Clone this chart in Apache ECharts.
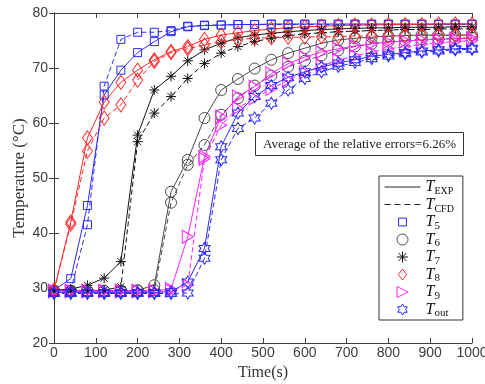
<!DOCTYPE html>
<html>
<head>
<meta charset="utf-8">
<script src="https://cdn.jsdelivr.net/npm/echarts@6/dist/echarts.min.js"></script>
<style>
  html, body { margin: 0; padding: 0; background: #fff; }
  #chart { width: 485px; height: 384px; }
</style>
</head>
<body>
<div id="chart"></div>
<script>
// Sampling instants (s)
const timeS = [0, 40, 80, 120, 160, 200, 240, 280, 320, 360, 400, 440, 480,
               520, 560, 600, 640, 680, 720, 760, 800, 840, 880, 920, 960, 1000];

// Measured (EXP) and simulated (CFD) temperatures, °C
const t5Exp  = [29.6, 31.7, 45.0, 65.1, 69.6, 72.8, 74.8, 76.6, 77.5, 77.7, 77.8, 77.9, 77.9, 78.0, 78.0, 78.0, 78.0, 78.0, 78.0, 78.0, 78.0, 78.0, 78.0, 78.0, 78.0, 78.0];
const t5Cfd  = [29.4, 29.5, 41.5, 66.7, 75.2, 76.5, 76.5, 76.8, 77.6, 77.8, 77.8, 77.9, 77.9, 77.9, 77.9, 77.9, 77.9, 77.9, 77.9, 77.9, 77.9, 77.9, 77.9, 77.9, 77.9, 77.9];
const t6Exp  = [29.5, 29.5, 29.5, 29.5, 29.5, 29.6, 30.5, 47.5, 53.3, 60.9, 66.0, 68.0, 69.9, 71.5, 72.7, 73.6, 74.5, 75.1, 75.4, 75.6, 75.8, 75.9, 76.0, 76.0, 76.0, 76.0];
const t6Cfd  = [29.5, 29.5, 29.5, 29.5, 29.5, 29.5, 29.6, 45.5, 52.4, 56.0, 61.5, 64.5, 66.8, 68.6, 70.2, 71.3, 72.3, 73.2, 73.9, 74.4, 74.8, 75.0, 75.2, 75.3, 75.4, 75.5];
const t7Exp  = [29.6, 29.8, 30.5, 31.8, 34.8, 57.8, 66.0, 68.5, 71.3, 73.3, 74.5, 75.5, 76.0, 76.3, 76.6, 76.8, 77.0, 77.1, 77.2, 77.3, 77.3, 77.4, 77.4, 77.4, 77.5, 77.5];
const t7Cfd  = [29.5, 29.5, 29.5, 29.6, 30.2, 56.6, 61.8, 64.8, 68.1, 70.8, 72.7, 73.9, 74.8, 75.4, 75.9, 76.2, 76.4, 76.6, 76.7, 76.8, 76.9, 77.0, 77.0, 77.1, 77.1, 77.1];
const t8Exp  = [29.6, 42.0, 57.3, 63.8, 67.4, 69.6, 71.5, 73.0, 73.9, 75.2, 76.0, 76.4, 76.8, 77.1, 77.3, 77.5, 77.6, 77.7, 77.8, 77.8, 77.9, 77.9, 77.9, 78.0, 78.0, 78.0];
const t8Cfd  = [29.5, 41.6, 54.9, 60.9, 63.3, 67.8, 71.2, 72.8, 73.5, 74.2, 74.8, 75.2, 75.4, 75.5, 75.6, 75.6, 75.7, 75.7, 75.8, 75.8, 75.8, 75.9, 75.9, 75.9, 75.9, 76.0];
const t9Exp  = [29.5, 29.5, 29.5, 29.5, 29.5, 29.5, 29.5, 29.8, 39.3, 53.9, 61.2, 64.8, 66.6, 69.0, 70.8, 72.0, 72.9, 73.5, 74.0, 74.4, 74.7, 74.9, 75.1, 75.2, 75.3, 75.4];
const t9Cfd  = [29.4, 29.4, 29.4, 29.4, 29.4, 29.4, 29.4, 29.5, 30.5, 53.5, 59.6, 62.7, 64.5, 66.2, 67.8, 69.2, 70.4, 71.4, 72.2, 72.9, 73.5, 73.9, 74.3, 74.6, 74.8, 75.0];
const tOutExp = [29.2, 29.2, 29.2, 29.2, 29.2, 29.2, 29.2, 29.3, 31.1, 37.2, 55.7, 61.8, 64.8, 66.8, 68.3, 69.3, 70.2, 70.9, 71.5, 72.1, 72.5, 72.8, 73.1, 73.3, 73.5, 73.6];
const tOutCfd = [29.0, 29.0, 29.0, 29.0, 29.0, 29.0, 29.0, 29.0, 29.1, 35.4, 53.3, 59.0, 60.9, 63.6, 66.0, 68.1, 69.3, 70.3, 71.0, 71.7, 72.2, 72.6, 72.9, 73.1, 73.3, 73.4];

const errorNote = 'Average of the relative errors=6.26%';

// Marker shapes
const SYM_ASTERISK = 'path://M0,-100L0,100M-100,0L100,0M-70.7,-70.7L70.7,70.7M-70.7,70.7L70.7,-70.7';
const SYM_TRI_RIGHT = 'path://M0,0L100,50L0,100Z';
const SYM_HEXAGRAM = 'path://M0,-100L28.9,-50L86.6,-50L57.7,0L86.6,50L28.9,50L0,100L-28.9,50L-86.6,50L-57.7,0L-86.6,-50L-28.9,-50Z';
const SYM_DIAMOND = 'path://M0,-100L75,0L0,100L-75,0Z';
const LEG_SQUARE = 'path://M-140,-140M140,140M-100,-100L100,-100L100,100L-100,100Z';
const LEG_LINE = 'path://M0,-10M0,10M0,0L360,0';

const BLUE = '#2a2aff', GREY = '#4a4a4a', BLACK = '#111111', RED = '#ff2a2a', MAGENTA = '#ff22ff';

const sensors = [
  { key: 'T5',   exp: t5Exp,   cfd: t5Cfd,   color: BLUE,    symbol: 'rect',        size: 8,        legIcon: LEG_SQUARE },
  { key: 'T6',   exp: t6Exp,   cfd: t6Cfd,   color: GREY,    symbol: 'circle',      size: 11,       legIcon: 'circle' },
  { key: 'T7',   exp: t7Exp,   cfd: t7Cfd,   color: BLACK,   symbol: SYM_ASTERISK,  size: 10,       legIcon: SYM_ASTERISK },
  { key: 'T8',   exp: t8Exp,   cfd: t8Cfd,   color: RED,     symbol: SYM_DIAMOND,   size: [10, 14], legIcon: SYM_DIAMOND },
  { key: 'T9',   exp: t9Exp,   cfd: t9Cfd,   color: MAGENTA, symbol: SYM_TRI_RIGHT, size: [11, 13], legIcon: SYM_TRI_RIGHT },
  { key: 'Tout', exp: tOutExp, cfd: tOutCfd, color: BLUE,    symbol: SYM_HEXAGRAM,  size: [11, 12], legIcon: SYM_HEXAGRAM }
];

const DASH = [5, 3];

function curve(name, values, s, dashed) {
  return {
    name: name,
    type: 'line',
    data: timeS.map((t, i) => [t, values[i]]),
    symbol: s.symbol,
    symbolSize: s.size,
    showSymbol: true,
    showAllSymbol: true,
    lineStyle: { color: s.color, width: 1, type: dashed ? DASH : 'solid' },
    itemStyle: { color: 'rgba(0,0,0,0)', borderColor: s.color, borderWidth: 1 },
    emphasis: { disabled: true },
    silent: true
  };
}

// Two empty series only carry the line-style entries of the legend
const series = [
  { name: 'EXP', type: 'line', data: [], symbol: 'none', lineStyle: { color: '#222', width: 1, type: 'solid' } },
  { name: 'CFD', type: 'line', data: [], symbol: 'none', lineStyle: { color: '#222', width: 1, type: DASH } }
];
sensors.forEach(s => {
  series.push(curve(s.key + ' CFD', s.cfd, s, true));
  series.push(curve(s.key, s.exp, s, false));
});

const legendText = {
  EXP: '{t|T}{s|EXP}', CFD: '{t|T}{s|CFD}',
  T5: '{t|T}{n|5}', T6: '{t|T}{n|6}', T7: '{t|T}{n|7}', T8: '{t|T}{n|8}', T9: '{t|T}{n|9}',
  Tout: '{t|T}{o|out}'
};

const legendData = [
  { name: 'EXP', icon: LEG_LINE, itemStyle: { color: 'rgba(0,0,0,0)', borderColor: '#222', borderWidth: 1, borderType: 'solid' } },
  { name: 'CFD', icon: LEG_LINE, itemStyle: { color: 'rgba(0,0,0,0)', borderColor: '#222', borderWidth: 1, borderType: [6, 4] } }
].concat(sensors.map(s => ({
  name: s.key,
  icon: s.legIcon,
  itemStyle: { color: 'rgba(0,0,0,0)', borderColor: s.color, borderWidth: 1 }
})));

const SERIF = '"Liberation Serif", "Times New Roman", serif';
const SANS = '"Liberation Sans", Arial, sans-serif';
const AXIS_COLOR = '#3c3c3c';

const axisCommon = {
  axisLine: { show: true, lineStyle: { color: AXIS_COLOR, width: 1 } },
  axisTick: { show: true, inside: true, length: 5, lineStyle: { color: AXIS_COLOR } },
  splitLine: { show: false }
};

const option = {
  animation: false,
  backgroundColor: '#ffffff',
  grid: { left: 54, right: 13, top: 13, bottom: 41, outerBoundsMode: 'none', containLabel: false },
  title: {
    text: errorNote,
    left: 255, top: 132,
    padding: [6, 8, 5, 8],
    borderColor: '#333', borderWidth: 1,
    textStyle: { fontFamily: SERIF, fontSize: 13, fontWeight: 'normal', color: '#1a1a1a' }
  },
  legend: {
    orient: 'vertical',
    left: 379, top: 176,
    padding: [3, 9, 1, 5],
    itemGap: 0,
    itemWidth: 36,
    itemHeight: 11,
    selectedMode: false,
    borderColor: '#333', borderWidth: 1,
    backgroundColor: '#fff',
    data: legendData,
    formatter: name => legendText[name],
    textStyle: {
      rich: {
        t: { fontFamily: SERIF, fontStyle: 'italic', fontSize: 16, lineHeight: 19, color: '#111' },
        s: { fontFamily: SERIF, fontSize: 10, lineHeight: 11, verticalAlign: 'bottom', color: '#111' },
        n: { fontFamily: SERIF, fontSize: 11, lineHeight: 11, verticalAlign: 'bottom', color: '#111' },
        o: { fontFamily: SERIF, fontSize: 11, lineHeight: 11, verticalAlign: 'bottom', color: '#111' }
      }
    }
  },
  xAxis: [
    Object.assign({
      type: 'value', min: 0, max: 1000, interval: 100, position: 'bottom',
      name: 'Time(s)', nameLocation: 'middle', nameGap: 18,
      nameTextStyle: { fontFamily: SERIF, fontSize: 16, color: '#333' },
      axisLabel: { fontFamily: SANS, fontSize: 14, color: AXIS_COLOR, margin: 3, showMaxLabel: true, hideOverlap: false,
                   formatter: v => String(v) }
    }, axisCommon),
    Object.assign({
      type: 'value', min: 0, max: 1000, interval: 100, position: 'top',
      axisLabel: { show: false }
    }, axisCommon)
  ],
  yAxis: [
    Object.assign({
      type: 'value', min: 20, max: 80, interval: 10, position: 'left',
      name: 'Temperature (°C)', nameLocation: 'middle', nameGap: 26, nameRotate: 90, nameMoveOverlap: false,
      nameTextStyle: { fontFamily: SERIF, fontSize: 17, color: '#333' },
      axisLabel: { fontFamily: SANS, fontSize: 14, color: AXIS_COLOR, margin: 6, formatter: v => String(v) }
    }, axisCommon),
    Object.assign({
      type: 'value', min: 20, max: 80, interval: 10, position: 'right',
      axisLabel: { show: false }
    }, axisCommon)
  ],
  series: series
};

const chart = echarts.init(document.getElementById('chart'), null, { renderer: 'canvas' });
chart.setOption(option);
</script>
</body>
</html>
